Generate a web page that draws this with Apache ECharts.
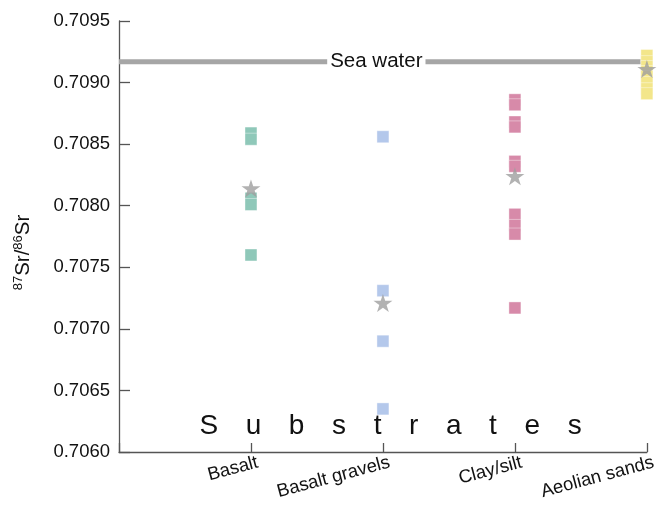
<!DOCTYPE html>
<html>
<head>
<meta charset="utf-8">
<script src="https://cdn.jsdelivr.net/npm/echarts@6/dist/echarts.min.js"></script>
<style>html,body{margin:0;padding:0;background:#fff}#c{width:659px;height:506px}</style>
</head>
<body>
<div id="c"></div>
<script>
// ---- data ----
var categories = ['Basalt', 'Basalt gravels', 'Clay/silt', 'Aeolian sands'];
var basalt = [0.70859, 0.70854, 0.70806, 0.70801, 0.70760];
var basaltGravels = [0.70856, 0.70731, 0.70690, 0.70635];
var claySilt = [0.70886, 0.70882, 0.70868, 0.70864, 0.70836, 0.70832, 0.70793, 0.70784, 0.70777, 0.70717];
var aeolianSands = [0.70922, 0.70917, 0.70913, 0.70909, 0.70905, 0.70900, 0.70895, 0.70891];
var means = [0.70814, 0.70721, 0.70824, 0.70911];
var seaWater = 0.70917;
var seaWaterLabel = 'Sea water';
var xTitle = 'Substrates';
var yTicks = { min: 0.7060, max: 0.7095, step: 0.0005 };

// ---- chart ----
var FONT = 'Liberation Sans, Arial, sans-serif';
var colors = ['#8fc8b9', '#b4c8eb', '#d78aa9', '#f3e68b'];
var groups = [basalt, basaltGravels, claySilt, aeolianSands];

var series = [];
series.push({
  type: 'line',
  name: seaWaterLabel,
  data: [[0, seaWater], { value: [1.95, seaWater], label: { show: true } }, [4, seaWater]],
  symbol: 'circle', symbolSize: 0, showSymbol: true,
  lineStyle: { width: 5, color: '#a6a6a6' },
  itemStyle: { color: '#a6a6a6' },
  label: {
    show: false, position: 'inside', formatter: seaWaterLabel,
    fontFamily: FONT, fontSize: 20.5, color: '#111', backgroundColor: '#fff', padding: [0, 3]
  },
  z: 1, silent: true
});
groups.forEach(function (vals, i) {
  series.push({
    type: 'scatter',
    data: vals.map(function (v) { return [i + 1, v]; }),
    symbol: 'rect', symbolSize: 12,
    itemStyle: { color: colors[i], opacity: 1, borderColor: 'rgba(255,255,255,0.5)', borderWidth: 0.8 },
    z: 3
  });
});
series.push({
  type: 'scatter',
  data: means.map(function (v, i) { return [i + 1, v]; }),
  symbol: 'path://M50,0 L61.2,34.5 L97.6,34.5 L68.2,55.9 L79.4,90.5 L50,69.1 L20.6,90.5 L31.8,55.9 L2.4,34.5 L38.8,34.5 Z',
  symbolSize: [19, 18],
  itemStyle: { color: '#9f9f9f' },
  z: 5
});

var xName = xTitle.split('').map(function (ch, i) { return '{' + (i === 0 ? 'f' : 'l') + '|' + ch + '}'; }).join('');

var chart = echarts.init(document.getElementById('c'), null, { renderer: 'canvas' });
chart.setOption({
  animation: false,
  backgroundColor: '#fff',
  grid: { left: 119, right: 11, top: 21, bottom: 54, containLabel: false },
  xAxis: {
    type: 'value', min: 0, max: categories.length, interval: 1,
    axisLine: { lineStyle: { color: '#555', width: 1.3 } },
    axisTick: { inside: true, length: 9, lineStyle: { color: '#555', width: 1.3 } },
    splitLine: { show: false },
    axisLabel: {
      formatter: function (v) { return categories[v - 1] || ''; },
      rotate: 15, margin: 12, fontFamily: FONT, fontSize: 18.5, color: '#111',
      padding: [0, -7, 0, 0]
    },
    name: xName, nameLocation: 'middle', nameGap: -40,
    nameTextStyle: {
      rich: {
        f: { fontFamily: FONT, fontSize: 28, color: '#111', padding: [0, 13.8, 0, 29] },
        l: { fontFamily: FONT, fontSize: 28, color: '#111', padding: [0, 13.8, 0, 13.8] }
      }
    }
  },
  yAxis: {
    type: 'value', min: yTicks.min, max: yTicks.max, interval: yTicks.step,
    axisLine: { show: true, lineStyle: { color: '#555', width: 1.3 } },
    axisTick: { show: true, inside: true, length: 11, lineStyle: { color: '#555', width: 1.3 } },
    splitLine: { show: false },
    axisLabel: {
      formatter: function (v) { return v.toFixed(4); },
      margin: 9, fontFamily: FONT, fontSize: 18.5, color: '#111'
    },
    name: '{s|87}{b|Sr/}{s|86}{b|Sr}', nameLocation: 'middle', nameGap: 84, nameRotate: 90,
    nameTextStyle: {
      padding: [0, 32, 0, 0],
      rich: {
        b: { fontFamily: FONT, fontSize: 20.5, color: '#111' },
        s: { fontFamily: FONT, fontSize: 13, color: '#111', verticalAlign: 'top', padding: [0, 0, 10, 0] }
      }
    }
  },
  series: series
});
</script>
</body>
</html>
